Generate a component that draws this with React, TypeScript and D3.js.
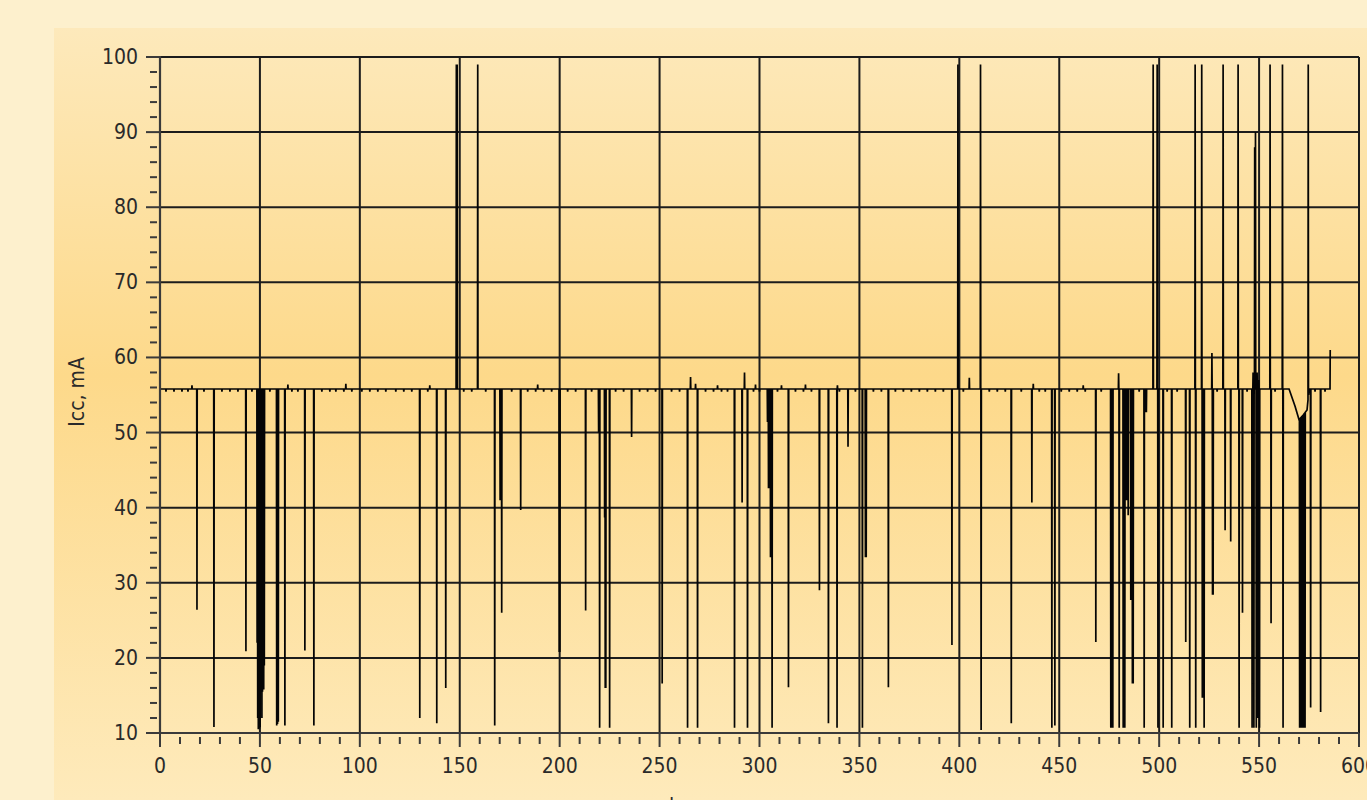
import React from "react";
import * as d3 from "d3";

// ---------- data ----------
const xTicks = [0, 50, 100, 150, 200, 250, 300, 350, 400, 450, 500, 550, 600];
const yTicks = [10, 20, 30, 40, 50, 60, 70, 80, 90, 100];
const yLabel = "Icc, mA";
const xLabel = "t, c";

// baseline level knots (time, current)
const baseKnotT = [0, 565, 568, 570, 572, 574, 575, 585.5, 585.6];
const baseKnotV = [55.8, 55.8, 53.5, 51.7, 52.3, 53, 55.8, 55.8, 61];

// spikes: time (s) and extreme current (mA)
const spikeT = [
  18.5, 27, 43,
  48.6, 48.9, 49.2, 49.5, 49.8, 50.1, 50.4, 50.7, 51, 51.3, 51.6, 51.9, 52.2,
  58.4, 58.8, 59.2, 62.5, 72.5, 77, 130, 138.5, 143,
  148.3, 148.7, 159,
  167.5, 170.2, 170.5, 171, 180.5,
  199.8, 200.1, 213, 219.5, 219.8, 220, 222.5, 222.8, 223.1, 225, 236, 251.3, 264, 265.5, 269, 287.5, 291.3, 292.5, 294,
  304, 304.5, 305, 305.5, 306.3, 314.5, 330, 334.5, 338.8, 344.3, 351.5, 353, 353.4, 364.5, 396.3, 399.3, 405, 410.6, 410.9,
  426, 436.3, 446.3, 447.8, 468.3, 475.8, 476.3, 476.8, 479.7, 480, 482, 482.8, 483.3, 483.7, 484.5, 485.8, 486.6, 487,
  492.5, 493.3, 493.6, 497, 499, 499.4, 502, 506.3, 513.3, 515.3, 518, 518.3, 521.3, 521.6, 521.9, 522.5,
  526.4, 526.7, 527, 532, 533, 535.8, 539.5, 540, 541.7,
  546.5, 547, 547.4, 547.8, 548.2, 548.6, 549, 549.4, 549.8, 550.2,
  555.5, 556, 561.7, 562, 570.3, 571, 571.6, 572.3, 573, 574.6, 575.8, 580.8,
];
const spikeV = [
  26.4, 10.8, 20.9,
  22, 12, 10.5, 11, 10.6, 10.8, 15.5, 15.7, 12, 15.5, 16, 15.8, 19,
  11, 11.2, 11.5, 11, 21, 11, 12, 11.3, 16,
  99, 99, 99,
  11, 41, 41, 26, 39.7,
  20.8, 20.8, 26.3, 50, 50, 10.7, 38.7, 16, 16, 10.7, 49.4, 16.6, 10.7, 57.4, 10.7, 10.7, 40.7, 58, 10.7,
  51.4, 42.6, 42.6, 33.4, 10.7, 16.1, 29, 11.3, 10.7, 48.1, 10.7, 33.4, 33.4, 16.1, 21.7, 99, 57.3, 99, 10.4,
  11.3, 40.7, 10.7, 11, 22.1, 10.7, 10.7, 10.7, 57.9, 10.7, 10.7, 10.7, 41, 41, 39, 27.7, 16.6, 16.6,
  10.7, 52.7, 52.7, 99, 99, 10.7, 10.7, 10.7, 22.1, 10.7, 99, 10.7, 99, 14.7, 14.7, 10.7,
  60.6, 28.4, 28.4, 99, 37, 35.5, 99, 10.7, 26,
  10.7, 58, 10.7, 88, 90, 10.7, 58, 12, 57, 10.7,
  99, 24.6, 99, 10.7, 10.7, 10.7, 10.7, 10.7, 10.7, 99, 13.4, 12.8,
];

// small notches on the baseline
const notchT = [
  3, 7, 11, 14, 22, 31, 35, 39, 46, 55, 66, 69, 81, 85, 88, 92, 96, 101, 105, 109, 113, 118, 122, 126, 134,
  152, 156, 163, 176, 184, 188, 192, 196, 204, 208, 216, 228, 232, 240, 244, 248, 256, 260, 273, 277, 281,
  284, 297, 300, 309, 318, 322, 326, 340, 348, 357, 361, 368, 372, 376, 380, 384, 388, 392, 402, 415, 419,
  423, 431, 440, 443, 451, 455, 459, 463, 471, 490, 504, 509, 529, 544, 558, 578, 583,
];
const notchV = notchT.map(() => 55.45);
const bumpT = [16, 64, 93, 135, 189, 268, 279, 298, 311, 323, 339, 437, 462];
const bumpV = [56.3, 56.4, 56.5, 56.3, 56.4, 56.5, 56.3, 56.4, 56.3, 56.4, 56.3, 56.5, 56.3];

// ---------- layout ----------
const W = 1367;
const H = 800;
const plotL = 160;
const plotR = 1359;
const plotT = 57;
const plotB = 733;

const FONT = "'DejaVu Sans Condensed', 'DejaVu Sans', sans-serif";

export default function App() {
  const x = d3.scaleLinear().domain([0, 600]).range([plotL, plotR]);
  const y = d3.scaleLinear().domain([10, 100]).range([plotB, plotT]);

  const baseAt = (t: number) => {
    for (let i = 0; i < baseKnotT.length - 1; i++) {
      if (t >= baseKnotT[i] && t <= baseKnotT[i + 1]) {
        const a = baseKnotT[i], b = baseKnotT[i + 1];
        const f = b === a ? 0 : (t - a) / (b - a);
        return baseKnotV[i] + f * (baseKnotV[i + 1] - baseKnotV[i]);
      }
    }
    return baseKnotV[baseKnotV.length - 1];
  };

  type Ev = { t: number; v: number };
  const events: Ev[] = [];
  spikeT.forEach((t, i) => events.push({ t, v: spikeV[i] }));
  notchT.forEach((t, i) => events.push({ t, v: notchV[i] }));
  bumpT.forEach((t, i) => events.push({ t, v: bumpV[i] }));
  events.sort((a, b) => a.t - b.t);

  const hw = 0.12;
  const pts: [number, number][] = [];
  let ei = 0;
  const knots = baseKnotT.map((t, i) => ({ t, v: baseKnotV[i] }));
  let ki = 0;
  while (ki < knots.length || ei < events.length) {
    const k = knots[ki];
    const e = events[ei];
    if (e && (!k || e.t < k.t)) {
      pts.push([e.t - hw, baseAt(e.t - hw)]);
      pts.push([e.t, e.v]);
      pts.push([e.t + hw, baseAt(e.t + hw)]);
      ei++;
    } else {
      pts.push([k.t, k.v]);
      ki++;
    }
  }

  const line = d3
    .line<[number, number]>()
    .x((d) => x(d[0]))
    .y((d) => y(d[1]));

  const minorY = d3.range(10, 100.01, 2).filter((v) => v % 10 !== 0);
  const minorX = d3.range(0, 600.01, 10).filter((v) => v % 50 !== 0);

  const gridColor = "#1c1c1c";

  return (
    <div style={{ position: "fixed", left: 0, top: 0, width: W, height: H }}>
      <svg width={W} height={H} style={{ display: "block" }}>
        <defs>
          <linearGradient id="bg" x1="0" y1="0" x2="0" y2="1">
            <stop offset="0" stopColor="#fde9bb" />
            <stop offset="0.45" stopColor="#fdd98a" />
            <stop offset="1" stopColor="#feeabb" />
          </linearGradient>
        </defs>
        <rect x={0} y={0} width={W} height={H} fill="#fdf0cd" />
        <rect x={54} y={28} width={W - 54} height={H - 28} fill="url(#bg)" />

        {/* grid */}
        {xTicks
          .filter((t) => t > 0)
          .map((t) => (
            <line key={"gx" + t} x1={x(t)} x2={x(t)} y1={plotT} y2={plotB} stroke={gridColor} strokeWidth={2} />
          ))}
        {yTicks
          .filter((t) => t > 10)
          .map((t) => (
            <line key={"gy" + t} x1={plotL} x2={plotR} y1={y(t)} y2={y(t)} stroke={gridColor} strokeWidth={2} />
          ))}

        {/* data */}
        <path d={line(pts) || ""} fill="none" stroke="#050505" strokeWidth={1.7} strokeLinejoin="miter" />

        {/* axes */}
        <line x1={plotL} x2={plotL} y1={plotT - 1} y2={plotB} stroke="#3a3a3a" strokeWidth={2.2} />
        <line x1={plotL} x2={plotR} y1={plotB} y2={plotB} stroke="#3a3a3a" strokeWidth={2.2} />

        {yTicks.map((t) => (
          <g key={"yt" + t}>
            <line x1={plotL - 14} x2={plotL} y1={y(t)} y2={y(t)} stroke="#3a3a3a" strokeWidth={2} />
            <text
              x={138}
              y={y(t)}
              textAnchor="end"
              dominantBaseline="central"
              fontFamily={FONT}
              fontSize={21}
              fill="#2a2a2a"
            >
              {t}
            </text>
          </g>
        ))}
        {minorY.map((t) => (
          <line key={"my" + t} x1={plotL - 10} x2={plotL - 3} y1={y(t)} y2={y(t)} stroke="#3a3a3a" strokeWidth={2} />
        ))}

        {xTicks.map((t) => (
          <g key={"xt" + t}>
            <line x1={x(t)} x2={x(t)} y1={plotB} y2={plotB + 14} stroke="#3a3a3a" strokeWidth={2} />
            <text
              x={x(t)}
              y={766}
              textAnchor="middle"
              dominantBaseline="central"
              fontFamily={FONT}
              fontSize={21}
              fill="#2a2a2a"
            >
              {t}
            </text>
          </g>
        ))}
        {minorX.map((t) => (
          <line key={"mx" + t} x1={x(t)} x2={x(t)} y1={plotB + 4} y2={plotB + 11} stroke="#3a3a3a" strokeWidth={2} />
        ))}

        <text
          transform={`translate(84, 392) rotate(-90)`}
          textAnchor="middle"
          fontFamily={FONT}
          fontSize={21}
          fill="#2a2a2a"
        >
          {yLabel}
        </text>
        <text x={684} y={812} textAnchor="middle" fontFamily={FONT} fontSize={21} fill="#2a2a2a">
          {xLabel}
        </text>
      </svg>
    </div>
  );
}
